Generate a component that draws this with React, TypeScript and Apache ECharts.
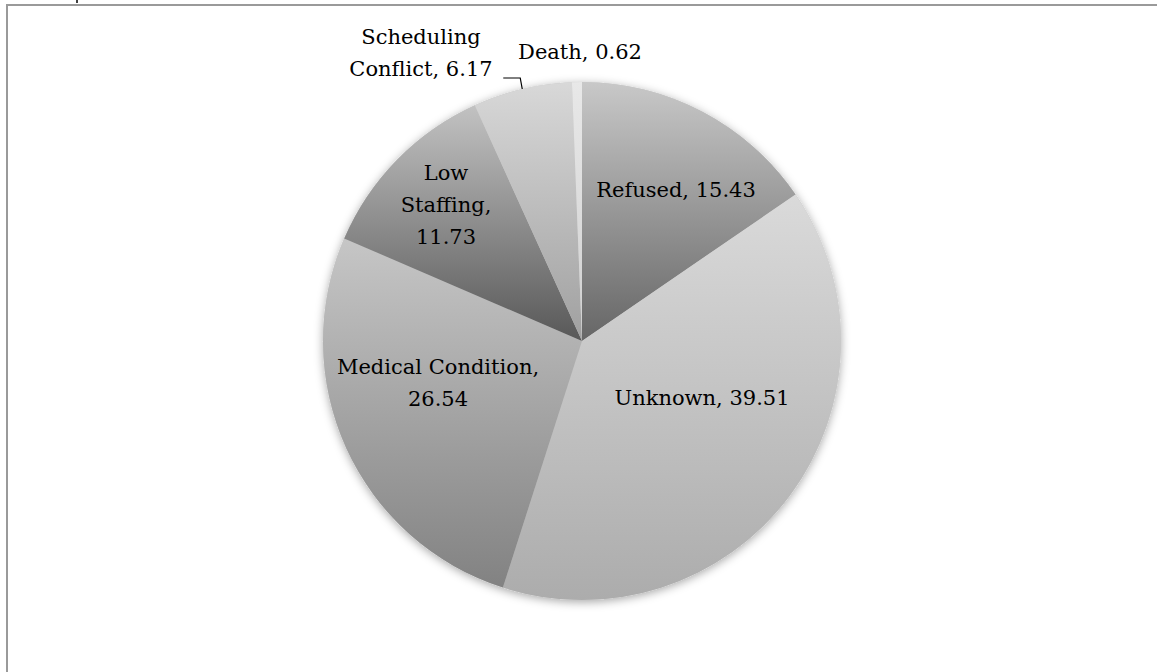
import React, { useEffect, useRef } from "react";
import * as echarts from "echarts";

const categories = ["Refused", "Unknown", "Medical Condition", "Low Staffing", "Scheduling Conflict", "Death"];
const values = [15.43, 39.51, 26.54, 11.73, 6.17, 0.62];
// word indices after which a line break is placed in each label
const labelBreaks = [[], [], [1], [0, 1], [0], []];
const gradTop = ["#c8c8c8", "#dadada", "#c6c6c6", "#c2c2c2", "#d8d8d8", "#e8e8e8"];
const gradBottom = ["#666666", "#acacac", "#828282", "#585858", "#a0a0a0", "#d0d0d0"];
// label centre offsets from the pie centre
const labelOffsets = [
  [94, -151],
  [120, 57],
  [-144, 42],
  [-136, -136],
  [-161, -288],
  [-2, -289],
];

const W = 1157;
const H = 672;
const CX = 582;
const CY = 341;
const R = 259;
const FONT = "DejaVu Serif";

function labelText(i: number): string {
  const words = `${categories[i]}, ${values[i]}`.split(" ");
  let s = "";
  words.forEach((w, k) => {
    s += w;
    if (k < words.length - 1) s += labelBreaks[i].includes(k) ? "\n" : " ";
  });
  return s;
}

export default function App() {
  const ref = useRef<HTMLDivElement>(null);
  useEffect(() => {
    document.body.style.margin = "0";
    const chart = echarts.init(ref.current!, null, { renderer: "svg" });
    const total = values.reduce((a, b) => a + b, 0);
    // leader line for Scheduling Conflict, anchored at the slice mid-angle
    const before = values.slice(0, 4).reduce((a, b) => a + b, 0);
    const midFrac = (before + values[4] / 2) / total;
    const ang = midFrac * Math.PI * 2;
    const px = CX + R * Math.sin(ang);
    const py = CY - R * Math.cos(ang);
    const corner = [px - 2, py - 11];
    const start = [corner[0] - 17, corner[1]];

    chart.setOption({
      animation: false,
      backgroundColor: "#ffffff",
      graphic: [
        { type: "line", shape: { x1: 6, y1: 5, x2: W, y2: 5 }, style: { stroke: "#9a9a9a", lineWidth: 2 } },
        { type: "line", shape: { x1: 7, y1: 5, x2: 7, y2: H }, style: { stroke: "#9a9a9a", lineWidth: 2 } },
        { type: "line", shape: { x1: 77, y1: 0, x2: 77, y2: 3 }, style: { stroke: "#000", lineWidth: 1.5 } },
        {
          type: "polyline",
          z: 100,
          shape: { points: [start, corner, [px, py]] },
          style: { stroke: "#000", lineWidth: 1.2, fill: null },
        },
      ],
      series: [
        {
          type: "pie",
          z: 1,
          silent: true,
          center: [CX, CY],
          radius: R,
          label: { show: false },
          labelLine: { show: false },
          data: [{ value: 1, itemStyle: { color: "#c8c8c8" } }],
          itemStyle: {
            shadowBlur: 10,
            shadowColor: "rgba(0,0,0,0.35)",
            shadowOffsetY: 2,
          },
        },
        {
          type: "pie",
          z: 2,
          center: [CX, CY],
          radius: R,
          startAngle: 90,
          clockwise: true,
          itemStyle: { borderWidth: 0 },
          label: {
            show: true,
            position: "inside",
            fontFamily: FONT,
            fontSize: 21,
            lineHeight: 32,
            color: "#000",
            align: "center",
            formatter: (p: any) => labelText(p.dataIndex),
          },
          labelLine: { show: false },
          labelLayout: (p: any) => ({
            x: CX + labelOffsets[p.dataIndex][0],
            y: CY + labelOffsets[p.dataIndex][1],
            align: "center",
            verticalAlign: "middle",
          }),
          data: categories.map((name, i) => ({
            name,
            value: values[i],
            itemStyle: {
              color: new echarts.graphic.LinearGradient(0, 0, 0, 1, [
                { offset: 0, color: gradTop[i] },
                { offset: 1, color: gradBottom[i] },
              ]),
            },
          })),
        },
      ],
    });
    return () => chart.dispose();
  }, []);
  return <div ref={ref} style={{ width: W, height: H }} />;
}
